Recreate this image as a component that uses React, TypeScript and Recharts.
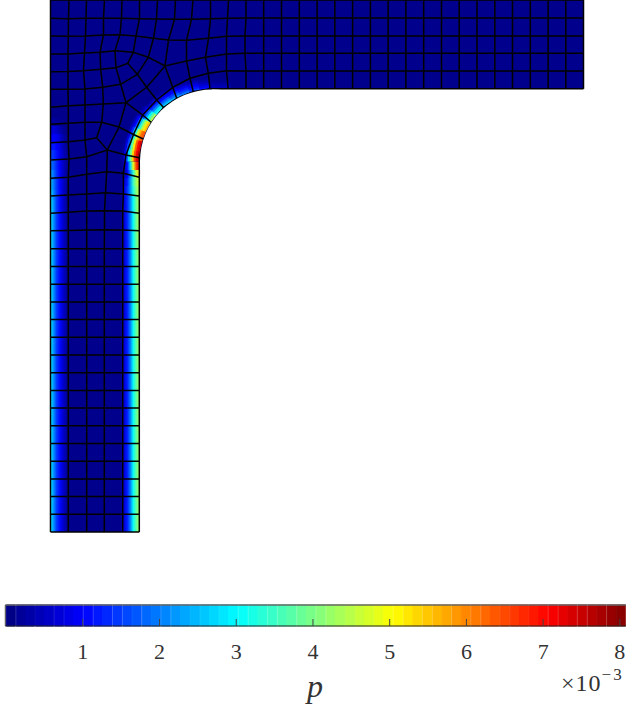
import { ComposedChart, Bar, Cell, Line, XAxis, YAxis, ReferenceArea, ReferenceDot, ReferenceLine } from "recharts";

type Pt = [number, number];

// mesh lines, in model units measured from the top left corner of the part
const meshLines: Pt[][] = [
  // top arm, rows
  [[0, 0], [533, 0]],
  [[0, 18.3], [18, 18.7], [35.5, 18.3], [53, 18.3], [71, 18.3], [89, 18.7], [106, 19], [124, 19.3], [141, 19.3], [160, 18.7], [177, 18.3], [195.5, 18], [533, 18]],
  [[0, 36], [17.8, 36.3], [35, 36], [53, 35], [69.5, 34.7], [85.5, 36], [103, 38.3], [118, 40], [136, 40.3], [158, 38.3], [176, 36.3], [194.5, 36], [533, 36]],
  [[0, 54], [17.5, 54], [34, 53], [49.5, 52.3], [64.5, 50.7], [82.8, 52.3], [97.8, 57.3], [114.5, 66], [136, 61], [155, 57.3], [176, 54], [194.5, 53.3], [533, 53.3]],
  [[0, 71.7], [17.5, 71.5], [33, 70.7], [50.2, 69.3], [65.5, 67.7], [77.2, 63.3], [86.8, 74.3], [96.2, 87.3], [106.2, 100], [113, 107.5]],
  [[82.8, 52.3], [77.2, 63.3]],
  [[97.8, 57.3], [86.8, 74.3]],
  [[0, 89.3], [17.5, 89.3], [34.5, 89], [52.2, 87.3], [70.2, 84.3], [86.8, 74.3]],
  [[0, 107.3], [17.8, 105.7], [34.5, 105], [52.8, 104], [75.5, 102.7], [96.2, 87.3], [114.5, 66]],
  [[75.5, 102.7], [92.2, 115], [101.2, 122.7]],
  [[0, 124.3], [17.8, 123.3], [34.5, 122.3], [51.2, 122.3], [68.5, 127], [83, 134.5], [93.3, 139.3]],
  [[0, 142.7], [17.8, 141.7], [34.5, 140], [46.2, 137.7]],
  [[0, 160], [18.5, 159], [36.2, 156.7], [56.8, 150], [75.5, 155], [89, 157.7]],
  [[0, 178.3], [17.8, 177.3], [36.2, 174.3], [56.2, 171.7], [72.8, 173.3], [88.8, 177.3]],
  [[0, 196], [17.8, 195], [36.2, 194], [55, 192.7], [72.8, 194], [88.8, 196]],
  [[0, 213.3], [17.8, 212.3], [36.2, 211], [54, 210.7], [72.2, 211], [88.8, 213.3]],
  [[0, 230.7], [17.8, 230.5], [36.2, 230], [54, 229.7], [72.2, 230], [88.8, 230.7]],
  // lower arm, straight rows
  ...[248.8, 266.5, 284.2, 301.9, 319.6, 337.3, 355, 372.7, 390.4, 408.1, 425.8, 443.5, 461.2, 478.9, 496.6, 514.3, 532].map(
    (y): Pt[] => [[0, y], [88.8, y]],
  ),
  // arc next to the fillet and the boundary
  [[72.8, 173.3], [75.5, 155], [83, 134.5], [92.2, 115], [106.2, 100], [122.2, 87.3], [139.5, 78.3], [157.8, 73.3], [176, 70.7], [195.5, 71], [533, 71]],
  [[88.8, 532], [88.8, 177.3], [89, 157.7], [93.3, 139.3], [101.2, 122.7], [113, 107.5], [126.2, 98.3], [142.8, 91.7], [159.5, 88.8], [533, 88.8]],
  // columns
  [[0, 0], [0, 532]],
  [[18.5, 0], [18, 18.7], [17.8, 36.3], [17.5, 54], [17.5, 71.5], [17.5, 89.3], [17.8, 105.7], [17.8, 123.3], [17.8, 141.7], [18.5, 159], [17.8, 177.3], [17.8, 195], [17.8, 212.3], [17.8, 230.5], [17.8, 532]],
  [[36, 0], [35.5, 18.3], [35, 36], [34, 53], [33, 70.7], [34.5, 89], [34.5, 105], [34.5, 122.3], [34.5, 140], [36.2, 156.7], [36.2, 174.3], [36.2, 194], [36.2, 211], [36.2, 230], [36.2, 532]],
  [[54, 0], [53, 18.3], [53, 35], [49.5, 52.3], [50.2, 69.3], [52.2, 87.3], [52.8, 104], [51.2, 122.3], [46.2, 137.7], [56.8, 150], [56.2, 171.7], [55, 192.7], [54, 210.7], [54, 229.7], [53.8, 248.8], [53.8, 532]],
  [[71.5, 0], [71, 18.3], [69.5, 34.7], [64.5, 50.7], [65.5, 67.7], [70.2, 84.3], [75.5, 102.7], [68.5, 127], [56.8, 150]],
  [[72.8, 173.3], [72.8, 194], [72.2, 211], [72.2, 230], [72.2, 532]],
  [[89, 0], [89, 18.7], [85.5, 36], [82.8, 52.3]],
  [[107, 0], [106, 19], [103, 38.3], [97.8, 57.3]],
  [[125, 0], [124, 19.3], [118, 40], [114.5, 66], [122.2, 87.3], [126.2, 98.3]],
  [[142.5, 0], [141, 19.3], [136, 40.3], [136, 61], [139.5, 78.3], [142.8, 91.7]],
  [[160, 0], [160, 18.7], [158, 38.3], [155, 57.3], [157.8, 73.3], [159.5, 88.8]],
  [[178, 0], [177, 18.3], [176, 36.3], [176, 54], [176, 70.7], [177.7, 88.8]],
  [[195.5, 0], [195.5, 18], [194.5, 36], [194.5, 53.3], [195.5, 71], [195.5, 88.8]],
  ...[213.2, 231, 248.8, 266.6, 284.3, 302.1, 319.9, 337.6, 355.4, 373.2, 391, 408.7, 426.5, 444.3, 462, 479.8, 497.6, 515.3, 533].map(
    (x): Pt[] => [[x, 0], [x, 88.8]],
  ),
];

// p (x1e-3) across the left strip of the lower arm, from the outer edge inwards
const leftRows: { y: [number, number]; p: number[] }[] = [
  { y: [118, 126], p: [0.2, 0.25, 0.2, 0.15, 0.1, 0.1, 0.1] },
  { y: [126, 134], p: [0.6, 0.7, 0.6, 0.4, 0.25, 0.1, 0.1] },
  { y: [134, 142], p: [0.8, 1.0, 0.9, 0.7, 0.4, 0.2, 0.1] },
  { y: [142, 150], p: [1.1, 1.2, 1.0, 0.8, 0.5, 0.25, 0.1] },
  { y: [150, 160], p: [1.5, 1.4, 1.15, 0.9, 0.6, 0.3, 0.1] },
  { y: [160, 170], p: [1.9, 1.7, 1.3, 1.0, 0.65, 0.3, 0.1] },
  { y: [170, 180], p: [2.3, 1.9, 1.4, 1.05, 0.65, 0.35, 0.1] },
  { y: [180, 190], p: [2.6, 2.0, 1.45, 1.05, 0.7, 0.35, 0.1] },
  { y: [190, 200], p: [2.8, 2.1, 1.5, 1.1, 0.7, 0.35, 0.1] },
  { y: [200, 532], p: [2.9, 2.2, 1.5, 1.1, 0.7, 0.35, 0.1] },
];

// p across the right strip, from the inside out to the boundary
const rightRows: { y: [number, number]; p: number[] }[] = [
  { y: [161.5, 170], p: [0.1, 0.4, 1.1, 2.7, 4.8, 6.6, 7.5] },
  { y: [170, 178], p: [0.1, 0.3, 0.9, 2.0, 3.4, 4.6, 5.4] },
  { y: [178, 186], p: [0.2, 0.6, 1.2, 2.2, 3.5, 4.3, 4.7] },
  { y: [186, 196], p: [0.2, 0.75, 1.4, 2.2, 3.3, 4.1, 4.5] },
  { y: [196, 240], p: [0.2, 0.7, 1.3, 2.05, 3.1, 3.9, 4.4] },
  { y: [240, 532], p: [0.2, 0.7, 1.25, 2.0, 3.1, 3.8, 4.3] },
];

// p around the fillet: one row per angle (degrees from the lower arm), one column per depth
const filletAngles = [0, 8, 16, 24, 32, 40, 48, 56, 64, 72, 80, 88];
const filletDepths = [1, 3, 5, 7, 9, 11, 13, 15, 17];
const filletValues = [
  [7.8, 7.2, 6.5, 5.4, 4.0, 2.8, 1.6, 0.8, 0.2],
  [7.4, 7.0, 6.3, 5.2, 3.9, 2.7, 1.5, 0.7, 0.2],
  [6.4, 6.2, 5.6, 4.6, 3.4, 2.3, 1.3, 0.6, 0.15],
  [5.6, 5.2, 4.4, 3.5, 2.5, 1.7, 1.0, 0.5, 0.15],
  [4.4, 3.8, 3.0, 2.2, 1.5, 1.0, 0.5, 0.25, 0.1],
  [3.2, 2.8, 2.1, 1.5, 1.05, 0.7, 0.3, 0.1, 0.1],
  [2.6, 2.1, 1.6, 1.1, 0.75, 0.45, 0.2, 0.1, 0.1],
  [2.3, 1.8, 1.4, 1.0, 0.65, 0.35, 0.15, 0.1, 0.1],
  [1.9, 1.5, 1.15, 0.85, 0.5, 0.3, 0.12, 0.1, 0.1],
  [1.5, 1.15, 0.9, 0.65, 0.4, 0.2, 0.1, 0.1, 0.1],
  [1.1, 0.85, 0.6, 0.4, 0.25, 0.12, 0.1, 0.1, 0.1],
  [0.5, 0.4, 0.3, 0.2, 0.1, 0.1, 0.1, 0.1, 0.1],
];
const tongueValues = [0.1, 0.15, 0.35, 0.5];

const colorLevels = [
  0, 0.13, 0.25, 0.38, 0.5, 0.63, 0.76, 0.88, 1.01, 1.14, 1.26, 1.39, 1.52, 1.64, 1.77, 1.89,
  2.02, 2.15, 2.27, 2.4, 2.53, 2.65, 2.78, 2.9, 3.03, 3.16, 3.28, 3.41, 3.54, 3.66, 3.79, 3.91,
  4.04, 4.17, 4.29, 4.42, 4.55, 4.67, 4.8, 4.92, 5.05, 5.18, 5.3, 5.43, 5.56, 5.68, 5.81, 5.93,
  6.06, 6.19, 6.31, 6.44, 6.57, 6.69, 6.82, 6.94, 7.07, 7.2, 7.32, 7.45, 7.58, 7.7, 7.83, 7.95,
];
const colorTicks = [1, 2, 3, 4, 5, 6, 7, 8];

const P_MAX = 8.08;
const BASE = 0.1;
const CENTER = 161.5;
const RADIUS = 72.7;
const TEXT = "#333";
const SERIF = "'Liberation Serif', serif";

const jet = (p: number) => {
  const t = p / P_MAX;
  const c = (v: number) => Math.round(255 * Math.max(0, Math.min(1, 1.5 - Math.abs(4 * t - v))));
  return `rgb(${c(3)},${c(2)},${c(1)})`;
};

const toPoints = (line: Pt[]) => line.map(([x, y]) => ({ x, y }));

// one short arc per table cell
const filletSegments = filletAngles.flatMap((angle, i) =>
  filletDepths.map((depth, j) => {
    const r = RADIUS + depth;
    const end = Math.min(angle + 8.6, 90);
    const data = [angle, (angle + end) / 2, end].map((deg) => {
      const a = (deg * Math.PI) / 180;
      return { x: CENTER - r * Math.cos(a), y: CENTER - r * Math.sin(a) };
    });
    return { key: `${i}-${j}`, data, color: jet(filletValues[i][j]) };
  }),
);

const barData = colorLevels.map((level) => ({ x: level + 0.063, h: 1 }));

const Stops = ({ id, values, vertical }: { id: string; values: number[]; vertical?: boolean }) => (
  <linearGradient id={id} x1="0" y1="0" x2={vertical ? "0" : "1"} y2={vertical ? "1" : "0"}>
    {values.map((p, i) => (
      <stop key={i} offset={i / (values.length - 1)} stopColor={jet(p)} />
    ))}
  </linearGradient>
);

const FieldChart = () => (
  <ComposedChart width={626} height={707} margin={{ top: 0, left: 50.5, right: 42.5, bottom: 175 }}>
    <defs>
      {leftRows.map((row, i) => (
        <Stops key={i} id={`left${i}`} values={row.p} />
      ))}
      {rightRows.map((row, i) => (
        <Stops key={i} id={`right${i}`} values={row.p} />
      ))}
      <Stops id="tongue" values={tongueValues} vertical />
    </defs>
    <XAxis type="number" dataKey="x" domain={[0, 533]} hide />
    <YAxis type="number" dataKey="y" domain={[0, 532]} reversed hide />

    <ReferenceArea x1={0} x2={533} y1={0} y2={88.8} fill={jet(BASE)} fillOpacity={1} stroke="none" />
    <ReferenceArea x1={0} x2={88.8} y1={0} y2={532} fill={jet(BASE)} fillOpacity={1} stroke="none" />
    <ReferenceArea x1={88} x2={CENTER} y1={88} y2={CENTER} fill={jet(BASE)} fillOpacity={1} stroke="none" />
    {leftRows.map((row, i) => (
      <ReferenceArea key={i} x1={0} x2={18} y1={row.y[0]} y2={row.y[1]} fill={`url(#left${i})`} fillOpacity={1} stroke="none" />
    ))}
    {rightRows.map((row, i) => (
      <ReferenceArea key={i} x1={70.8} x2={88.8} y1={row.y[0]} y2={row.y[1]} fill={`url(#right${i})`} fillOpacity={1} stroke="none" />
    ))}
    <ReferenceArea x1={CENTER} x2={180} y1={78} y2={88.8} fill="url(#tongue)" fillOpacity={1} stroke="none" />

    {filletSegments.map((s) => (
      <Line
        key={s.key}
        data={s.data}
        dataKey="y"
        stroke={s.color}
        strokeWidth={2.5}
        dot={false}
        activeDot={false}
        legendType="none"
        isAnimationActive={false}
      />
    ))}
    <ReferenceDot x={CENTER} y={CENTER} r={72} fill="#fff" stroke="none" />
    {meshLines.map((line, i) => (
      <Line
        key={i}
        data={toPoints(line)}
        dataKey="y"
        stroke="#000"
        strokeWidth={1.5}
        dot={false}
        activeDot={false}
        legendType="none"
        isAnimationActive={false}
      />
    ))}
  </ComposedChart>
);

const ColorBar = () => (
  <ComposedChart width={626} height={112} data={barData} barCategoryGap={0} margin={{ top: 10, left: 5.3, right: 0, bottom: 0 }}>
    <XAxis
      type="number"
      dataKey="x"
      domain={[-0.01, P_MAX]}
      ticks={colorTicks}
      height={81}
      stroke="#222"
      tickSize={-7}
      tickMargin={24}
      tick={{ fill: TEXT, fontSize: 22, fontFamily: SERIF }}
      tickLine={{ stroke: "#444" }}
    />
    <YAxis type="number" domain={[0, 1]} hide />
    <Bar dataKey="h" isAnimationActive={false}>
      {barData.map((d, i) => (
        <Cell key={i} fill={jet(d.x)} stroke={jet(d.x)} strokeWidth={1} />
      ))}
    </Bar>
    <ReferenceLine y={1} stroke="#666" strokeWidth={1.5} />
    <ReferenceLine x={-0.01} stroke="#444" />
    <text x={315} y={102} textAnchor="middle" fontFamily={SERIF} fontStyle="italic" fontSize={32} fill={TEXT}>
      p
    </text>
    <text x={561} y={96} fontFamily={SERIF} fontSize={24} letterSpacing={1} fill={TEXT}>
      ×10
      <tspan dy={-11} fontSize={17} letterSpacing={2}>
        −3
      </tspan>
    </text>
  </ComposedChart>
);

export default function App() {
  return (
    <div style={{ position: "relative", width: 626, height: 707, overflow: "hidden", background: "#fff" }}>
      <style>{"body { margin: 0 }"}</style>
      <div style={{ position: "absolute", left: 0, top: 0 }}>
        <FieldChart />
      </div>
      <div style={{ position: "absolute", left: 0, top: 595 }}>
        <ColorBar />
      </div>
    </div>
  );
}
